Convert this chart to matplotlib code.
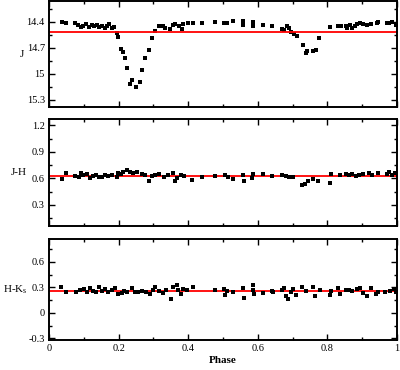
import numpy as np
import matplotlib
matplotlib.use("Agg")
import matplotlib.pyplot as plt
from matplotlib.ticker import MultipleLocator

plt.rcParams['font.family'] = ['Liberation Serif', 'DejaVu Serif']

# J light curve
phase_j = [0.036, 0.049, 0.075, 0.084, 0.091, 0.097, 0.106, 0.116, 0.123, 0.129,
           0.137, 0.145, 0.151, 0.161, 0.166, 0.173, 0.180, 0.187, 0.194, 0.199,
           0.206, 0.212, 0.218, 0.225, 0.233, 0.238, 0.250, 0.261, 0.268, 0.276,
           0.288, 0.295, 0.305, 0.317, 0.328, 0.333, 0.348, 0.355, 0.362, 0.374,
           0.381, 0.386, 0.400, 0.413, 0.439, 0.477, 0.503, 0.511, 0.530, 0.558,
           0.558, 0.587, 0.585, 0.616, 0.640, 0.669, 0.675, 0.683, 0.690, 0.695,
           0.704, 0.713, 0.729, 0.739, 0.742, 0.760, 0.767, 0.777, 0.807, 0.831,
           0.838, 0.853, 0.857, 0.865, 0.870, 0.879, 0.886, 0.894, 0.901, 0.915,
           0.924, 0.942, 0.946, 0.970, 0.978, 0.985, 0.997]
mag_j = [14.40, 14.41, 14.41, 14.43, 14.46, 14.445, 14.42, 14.46, 14.43, 14.45,
         14.43, 14.46, 14.445, 14.47, 14.45, 14.42, 14.47, 14.46, 14.53, 14.57,
         14.715, 14.75, 14.82, 14.93, 15.11, 15.07, 15.15, 15.09, 14.95, 14.82,
         14.72, 14.58, 14.50, 14.45, 14.445, 14.47, 14.485, 14.43, 14.42, 14.45,
         14.485, 14.42, 14.415, 14.415, 14.41, 14.40, 14.41, 14.41, 14.39, 14.385,
         14.43, 14.40, 14.45, 14.43, 14.45, 14.485, 14.49, 14.445, 14.47, 14.52,
         14.54, 14.56, 14.665, 14.76, 14.74, 14.74, 14.72, 14.59, 14.46, 14.445,
         14.45, 14.445, 14.47, 14.43, 14.47, 14.45, 14.42, 14.415, 14.42, 14.43,
         14.42, 14.41, 14.40, 14.415, 14.41, 14.40, 14.43]

# J-H colour
phase_jh = [0.036, 0.049, 0.075, 0.087, 0.091, 0.099, 0.108, 0.118, 0.126, 0.135,
            0.145, 0.151, 0.161, 0.170, 0.180, 0.194, 0.199, 0.206, 0.214, 0.225,
            0.233, 0.242, 0.254, 0.266, 0.276, 0.288, 0.295, 0.305, 0.317, 0.330,
            0.343, 0.355, 0.362, 0.369, 0.378, 0.388, 0.410, 0.439, 0.477, 0.506,
            0.515, 0.530, 0.558, 0.561, 0.587, 0.584, 0.616, 0.642, 0.669, 0.680,
            0.690, 0.702, 0.728, 0.736, 0.743, 0.760, 0.774, 0.807, 0.810, 0.836,
            0.853, 0.862, 0.872, 0.881, 0.891, 0.903, 0.920, 0.927, 0.945, 0.970,
            0.977, 0.985, 0.994]
col_jh = [0.589, 0.663, 0.626, 0.61, 0.656, 0.637, 0.648, 0.60, 0.626, 0.637,
          0.61, 0.618, 0.637, 0.626, 0.637, 0.618, 0.663, 0.648, 0.674, 0.70,
          0.674, 0.663, 0.674, 0.648, 0.637, 0.573, 0.626, 0.637, 0.648, 0.618,
          0.637, 0.663, 0.573, 0.60, 0.637, 0.626, 0.58, 0.61, 0.626, 0.637,
          0.61, 0.589, 0.637, 0.573, 0.648, 0.60, 0.648, 0.626, 0.637, 0.626,
          0.61, 0.61, 0.525, 0.536, 0.573, 0.589, 0.573, 0.55, 0.648, 0.637,
          0.648, 0.637, 0.648, 0.626, 0.637, 0.648, 0.663, 0.637, 0.656, 0.648,
          0.674, 0.637, 0.663]

# H-Ks colour
phase_hk = [0.034, 0.049, 0.078, 0.089, 0.100, 0.110, 0.118, 0.127, 0.135, 0.145,
            0.151, 0.161, 0.170, 0.180, 0.190, 0.199, 0.209, 0.216, 0.225, 0.238,
            0.247, 0.257, 0.266, 0.279, 0.290, 0.298, 0.305, 0.317, 0.328, 0.336,
            0.350, 0.357, 0.367, 0.371, 0.378, 0.384, 0.396, 0.415, 0.477, 0.503,
            0.506, 0.512, 0.530, 0.557, 0.561, 0.585, 0.587, 0.590, 0.616, 0.640,
            0.645, 0.669, 0.675, 0.681, 0.688, 0.695, 0.702, 0.710, 0.726, 0.739,
            0.760, 0.764, 0.779, 0.807, 0.809, 0.831, 0.836, 0.853, 0.863, 0.870,
            0.884, 0.894, 0.901, 0.913, 0.924, 0.940, 0.946, 0.966, 0.980, 0.991,
            0.997]
col_hk = [0.31, 0.25, 0.25, 0.27, 0.28, 0.25, 0.29, 0.26, 0.24, 0.30,
          0.26, 0.28, 0.25, 0.27, 0.29, 0.22, 0.235, 0.26, 0.25, 0.29,
          0.25, 0.25, 0.26, 0.25, 0.22, 0.27, 0.30, 0.26, 0.235, 0.27,
          0.165, 0.30, 0.33, 0.27, 0.22, 0.28, 0.27, 0.30, 0.27, 0.28,
          0.21, 0.26, 0.25, 0.29, 0.17, 0.33, 0.27, 0.22, 0.235, 0.26,
          0.24, 0.27, 0.29, 0.195, 0.165, 0.24, 0.28, 0.21, 0.30, 0.26,
          0.30, 0.20, 0.27, 0.21, 0.26, 0.29, 0.22, 0.27, 0.27, 0.26,
          0.28, 0.29, 0.235, 0.20, 0.29, 0.22, 0.24, 0.25, 0.26, 0.28,
          0.24]

mean_j = 14.515
mean_jh = 0.625
mean_hk = 0.256

fig = plt.figure(figsize=(4.0, 3.7), dpi=100)
left, width = 0.1225, 0.87
ax1 = fig.add_axes([left, 0.711, width, 0.286])
ax2 = fig.add_axes([left, 0.389, width, 0.289])
ax3 = fig.add_axes([left, 0.081, width, 0.273])

def style(ax):
    ax.set_xlim(0, 1)
    ax.xaxis.set_major_locator(MultipleLocator(0.2))
    ax.xaxis.set_minor_locator(MultipleLocator(0.1))
    ax.tick_params(which='both', direction='in', top=True, right=True,
                   labelsize=7.5, width=1.0, pad=3)
    ax.tick_params(which='major', length=4)
    ax.tick_params(which='minor', length=2.5)
    for s in ax.spines.values():
        s.set_linewidth(1.4)

# J panel
ax1.plot(phase_j, mag_j, 's', color='black', ms=2.4, mew=0)
ax1.axhline(mean_j, color='red', lw=1.3)
ax1.set_ylim(15.38, 14.16)
ax1.yaxis.set_minor_locator(MultipleLocator(0.15))
ax1.set_yticks([14.4, 14.7, 15.0, 15.3])
ax1.set_yticklabels(['14.4', '14.7', '15', '15.3'])
ax1.set_ylabel('J', fontsize=8, rotation=0, ha='right', va='center')
ax1.yaxis.set_label_coords(-0.072, 0.5)
style(ax1)
ax1.set_xticklabels([])

# J-H panel
ax2.errorbar(phase_jh, col_jh, yerr=0.008, fmt='s', color='black', ms=2.4, mew=0,
             ecolor='#8fe8c8', elinewidth=1.2, capsize=0)
ax2.axhline(mean_jh, color='red', lw=1.3)
ax2.set_ylim(0.06, 1.27)
ax2.yaxis.set_minor_locator(MultipleLocator(0.15))
ax2.set_yticks([0.3, 0.6, 0.9, 1.2])
ax2.set_yticklabels(['0.3', '0.6', '0.9', '1.2'])
ax2.set_ylabel('J-H', fontsize=8, rotation=0, ha='right', va='center')
ax2.yaxis.set_label_coords(-0.063, 0.5)
style(ax2)
ax2.set_xticklabels([])

# H-Ks panel
ax3.errorbar(phase_hk, col_hk, yerr=0.008, fmt='s', color='black', ms=2.4, mew=0,
             ecolor='#8fe8c8', elinewidth=1.2, capsize=0)
ax3.axhline(mean_hk, color='red', lw=1.3)
ax3.set_ylim(-0.32, 0.87)
ax3.yaxis.set_minor_locator(MultipleLocator(0.15))
ax3.set_yticks([-0.3, 0.0, 0.3, 0.6])
ax3.set_yticklabels(['-0.3', '0', '0.3', '0.6'])
ax3.set_ylabel('H-K$_\\mathregular{s}$', fontsize=8, rotation=0, ha='right', va='center')
ax3.yaxis.set_label_coords(-0.062, 0.5)
style(ax3)
ax3.set_xticks([0, 0.2, 0.4, 0.6, 0.8, 1.0])
ax3.set_xticklabels(['0', '0.2', '0.4', '0.6', '0.8', '1'])
ax3.set_xlabel('Phase', fontsize=8, fontweight='bold', labelpad=2)

fig.savefig('out.png', dpi=100)
